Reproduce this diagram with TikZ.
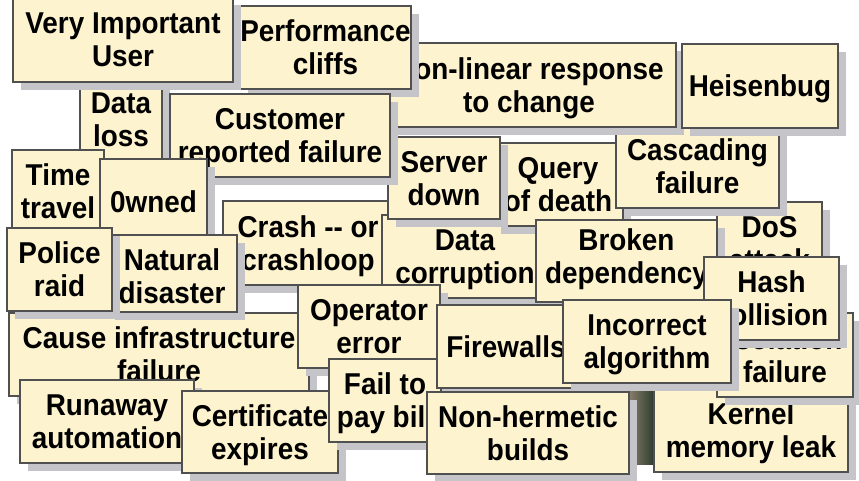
\documentclass[tikz,border=0pt]{standalone}
\usepackage{fontspec}
\setmainfont{Liberation Sans}[FakeStretch=0.925]
\definecolor{notefill}{RGB}{253,243,206}
\definecolor{noteborder}{RGB}{80,80,80}
\definecolor{shadowgray}{RGB}{196,196,201}
\definecolor{photolight}{RGB}{140,128,110}
\definecolor{photodark}{RGB}{38,56,40}
\tikzset{
  note/.style={draw=noteborder, line width=0.9pt, fill=notefill, inner sep=0pt, outer sep=0pt},
  notetext/.style={font=\bfseries\fontsize{22.6pt}{24.75pt}\selectfont, align=center,
    inner sep=0pt, text depth=0pt, text=black},
  noteshadow/.style={fill=shadowgray}
}
% \sticky[dy]{name}{x1}{y1}{x2}{y2}{text}  (pixel coordinates, y downwards)
\newcommand{\sticky}[7][0]{%
  \fill[noteshadow] ({#3+8},{#4+8}) rectangle ({#5+8},{#6+8});
  \node[note, minimum width={(#5-#3)*0.75pt}, minimum height={(#6-#4)*0.75pt}]
    (#2) at ({(#3+#5)/2},{(#4+#6)/2}) {};
  \node[notetext] (#2-text) at ({(#3+#5)/2},{(#4+#6)/2+#1}) {#7};
}
\begin{document}
\begin{tikzpicture}[x=0.75pt, y=-0.75pt]
\useasboundingbox (0,0) rectangle (859,480);
\fill[white] (0,0) rectangle (859,480);
% photo fragment behind the notes
\shade[left color=photolight, right color=photodark] (628,388) rectangle (656,464);
\sticky{dataloss}{80}{80}{162}{160}{Data\\loss}
\sticky{crash}{223}{201}{393}{285}{Crash -{}- or\\crashloop}
\sticky{datacorr}{382}{215}{548}{298}{Data\\corruption}
\sticky{query}{493}{143}{623}{226}{Query\\of death}
\sticky{server}{388}{137}{500}{219}{Server\\down}
\sticky{dos}{717}{202}{822}{285}{DoS\\attack}
\sticky{cascading}{616}{124}{779}{208}{Cascading\\failure}
\sticky{nonlinear}{382}{43}{676}{127}{Non-linear response\\to change}
\sticky{heisenbug}{682}{44}{838}{128}{Heisenbug}
\sticky{perf}{240}{6}{411}{89}{Performance\\cliffs}
\sticky{viu}{13}{-3}{233}{82}{Very Important\\User}
\sticky{customer}{170}{94}{390}{177}{Customer\\reported failure}
\sticky[-1.5]{timetravel}{12}{150}{104}{235}{Time\\travel}
\sticky{owned}{100}{159}{207}{245}{0wned}
\sticky{cause}{9}{313}{309}{396}{Cause infrastructure\\failure}
\sticky[3]{natural}{107}{235}{237}{312}{Natural\\disaster}
\sticky{police}{7}{228}{112}{311}{Police\\raid}
\sticky[-4.5]{broken}{536}{220}{717}{302}{Broken\\dependency}
\sticky{kernel}{654}{388}{848}{472}{Kernel\\memory leak}
\sticky{isolation}{717}{313}{853}{397}{Isolation\\failure}
\sticky{hash}{704}{257}{839}{340}{Hash\\collision}
\sticky{operator}{298}{285}{440}{368}{Operator\\error}
\sticky{runaway}{20}{380}{194}{463}{Runaway\\automation}
\sticky{cert}{182}{391}{338}{473}{Certificate\\expires}
\sticky{fail}{329}{359}{441}{442}{Fail to\\pay bill}
\sticky{firewalls}{437}{305}{575}{388}{Firewalls}
\sticky{incorrect}{563}{300}{731}{383}{Incorrect\\algorithm}
\sticky{nonhermetic}{427}{392}{629}{474}{Non-hermetic\\builds}
\end{tikzpicture}
\end{document}
